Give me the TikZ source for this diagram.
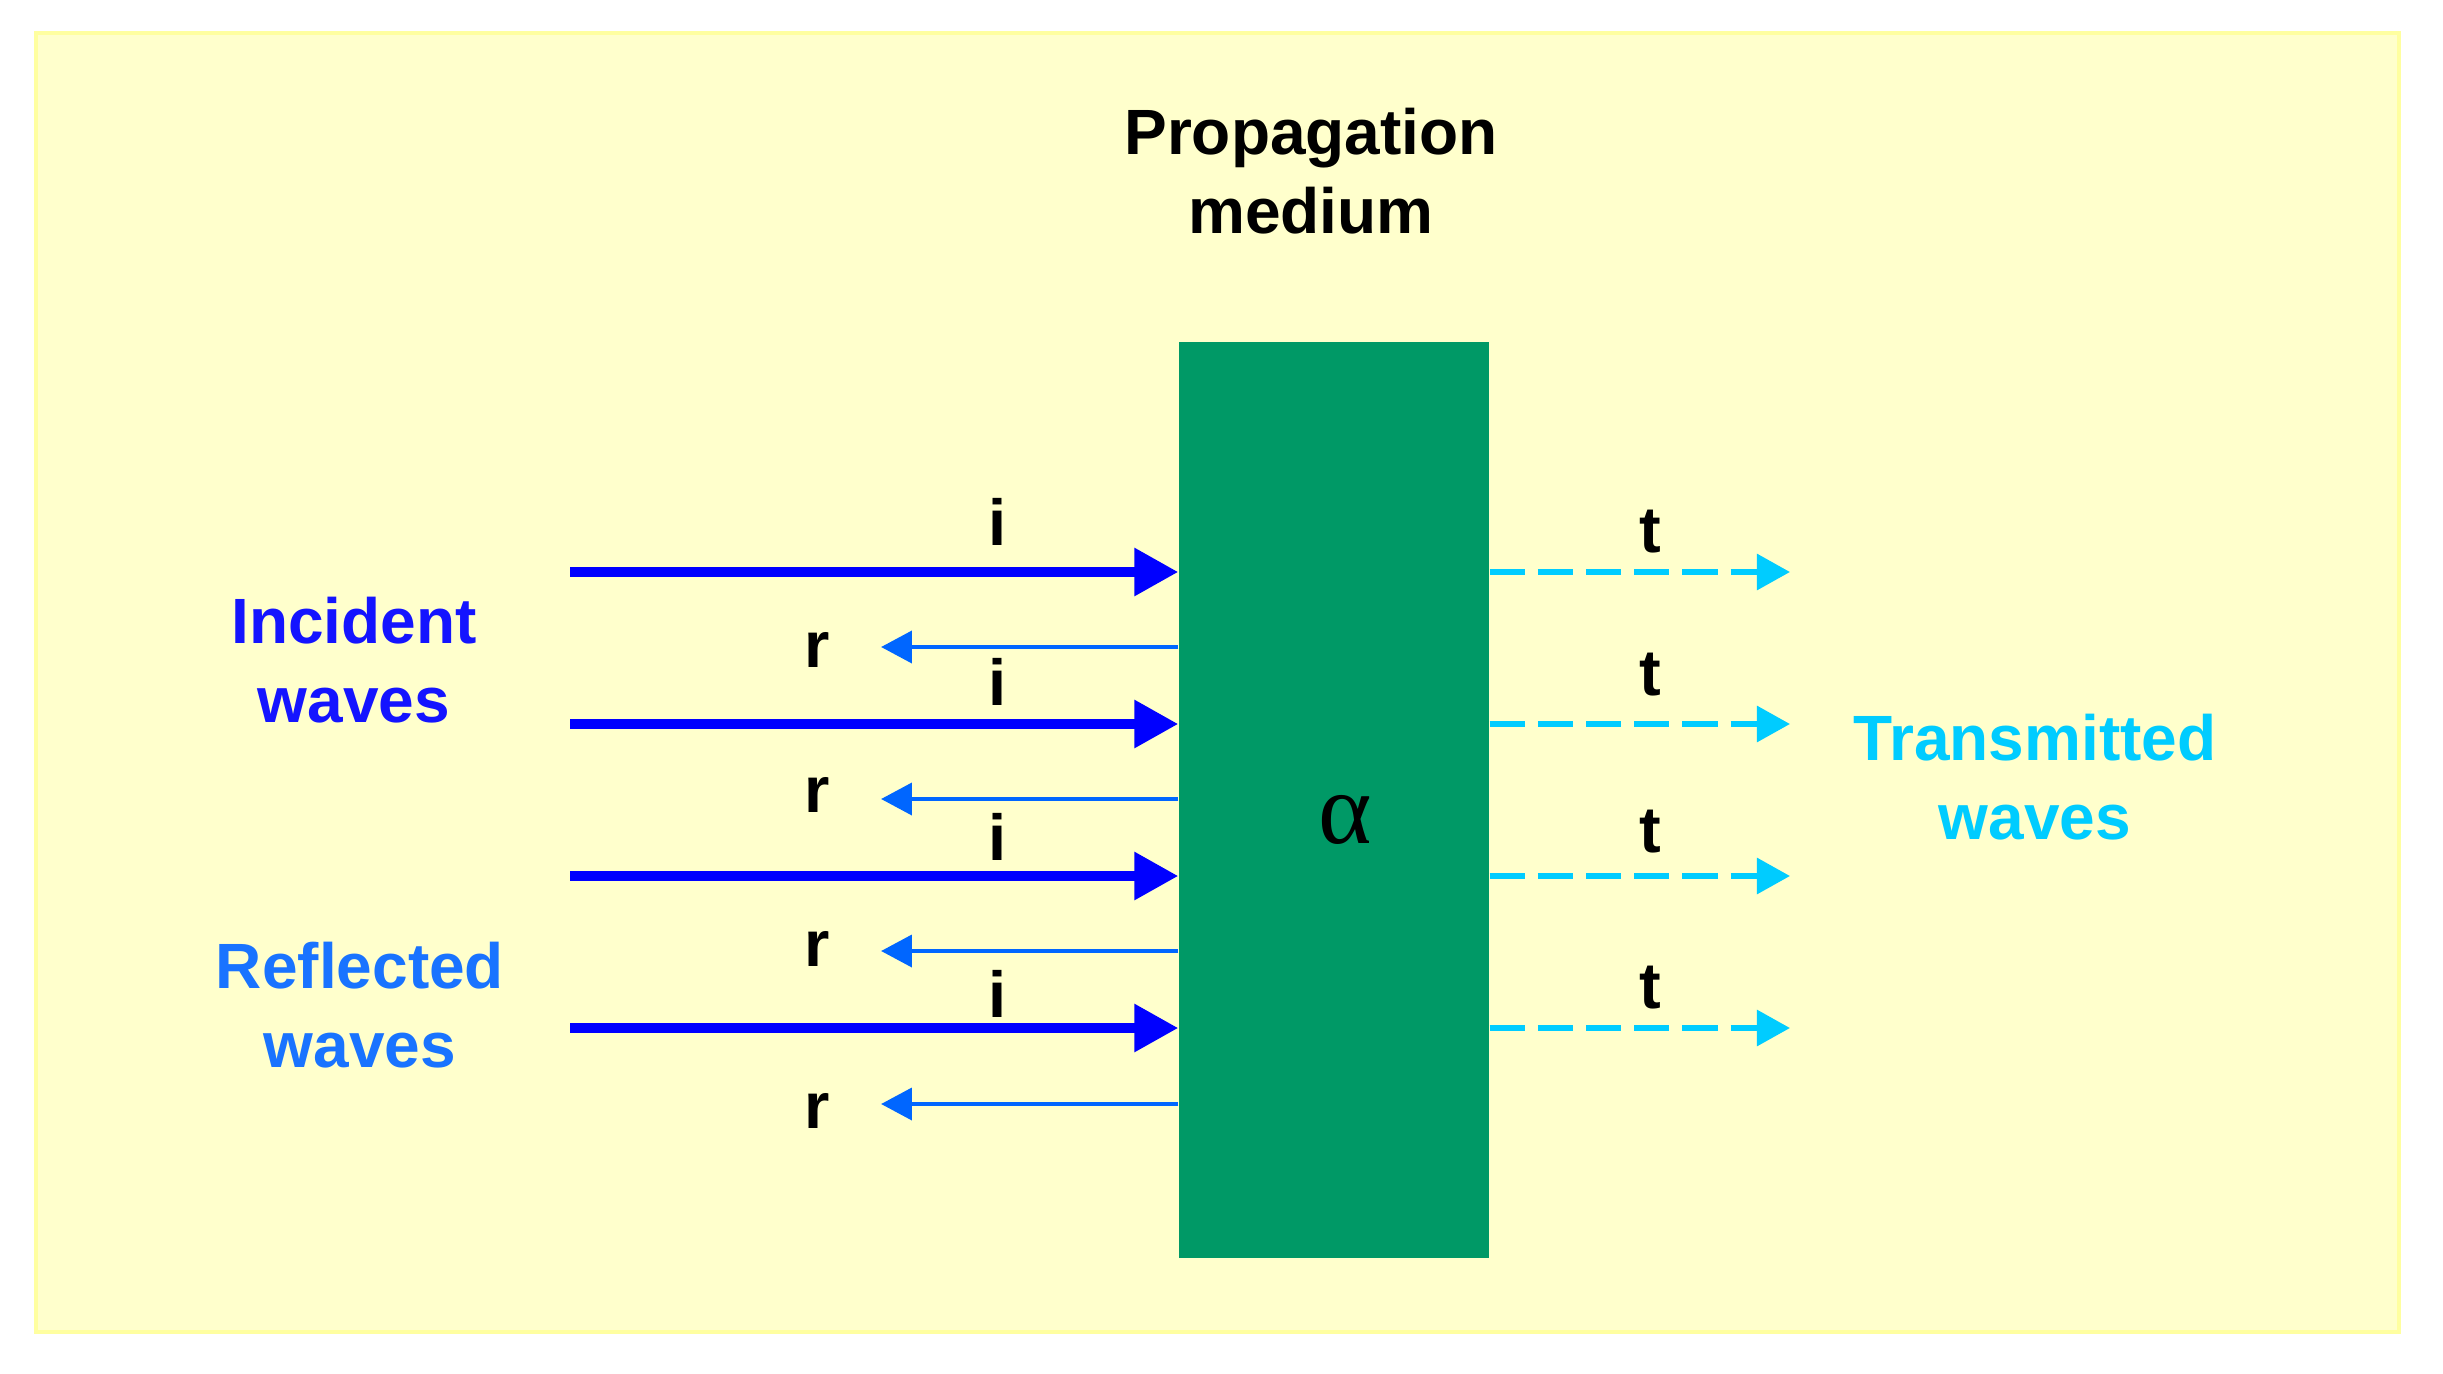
\documentclass[tikz,border=0pt]{standalone}
\usepackage{fontspec}
\setmainfont{Liberation Sans}
\newfontfamily\alphafont{Liberation Serif}
\usetikzlibrary{arrows.meta}
\definecolor{bgyellow}{RGB}{255,255,204}
\definecolor{bgedge}{RGB}{255,255,160}
\definecolor{medgreen}{RGB}{0,153,102}
\definecolor{incblue}{RGB}{0,0,255}
\definecolor{inctext}{RGB}{20,20,255}
\definecolor{refblue}{RGB}{0,102,255}
\definecolor{reftext}{RGB}{25,115,255}
\definecolor{trcyan}{RGB}{0,204,255}
\tikzset{
  lbl/.style={font=\fontsize{18.2}{22.5}\selectfont\bfseries, inner sep=0pt, align=center},
  wavelbl/.style={font=\fontsize{18.5}{22}\selectfont\bfseries, inner sep=0pt, anchor=base, text=black},
  medium/.style={fill=medgreen, draw=none, minimum width=310*0.01cm, minimum height=916*0.01cm, inner sep=0pt},
  incarrow/.style={line width=2.85pt, color=incblue, -{Triangle[length=12.5pt,width=13pt]}},
  refarrow/.style={line width=1.4pt, color=refblue, -{Triangle[length=8.8pt,width=9pt]}},
  trarrow/.style={line width=1.6pt, color=trcyan, dash pattern=on 10pt off 3.7pt, -{Triangle[length=9.4pt,width=10pt]}}
}
\begin{document}
\begin{tikzpicture}[x=0.01cm,y=-0.01cm]
\useasboundingbox (0,0) rectangle (2443,1373);
\fill[white] (0,0) rectangle (2443,1373);
\filldraw[fill=bgyellow, draw=bgedge, line width=1pt] (36,33) rectangle (2399,1332);

\node[medium] (med) at (1334,800) {};
\node[inner sep=0pt, font=\alphafont\fontsize{29}{30}\selectfont] (alpha) at (1345,820) {α};

\node[lbl, text=black] (title) at (1311,171) {Propagation\\medium};
\node[lbl, text=inctext] (inc) at (354,660) {Incident\\waves};
\node[lbl, text=reftext] (refl) at (360,1005) {Reflected\\waves};
\node[lbl, text=trcyan] (trans) at (2035,777) {Transmitted\\waves};

% incident
\coordinate (i1) at (570,572);
\coordinate (i2) at (570,724);
\coordinate (i3) at (570,876);
\coordinate (i4) at (570,1028);
\draw[incarrow] (i1) -- (i1 -| med.west);
\draw[incarrow] (i2) -- (i2 -| med.west);
\draw[incarrow] (i3) -- (i3 -| med.west);
\draw[incarrow] (i4) -- (i4 -| med.west);

% reflected
\coordinate (r1) at (881,647);
\coordinate (r2) at (881,799);
\coordinate (r3) at (881,951);
\coordinate (r4) at (881,1104);
\draw[refarrow] (r1 -| med.west) -- (r1);
\draw[refarrow] (r2 -| med.west) -- (r2);
\draw[refarrow] (r3 -| med.west) -- (r3);
\draw[refarrow] (r4 -| med.west) -- (r4);

% transmitted
\coordinate (t1) at (1790,572);
\coordinate (t2) at (1790,724);
\coordinate (t3) at (1790,876);
\coordinate (t4) at (1790,1028);
\draw[trarrow] (t1 -| med.east) -- (t1);
\draw[trarrow] (t2 -| med.east) -- (t2);
\draw[trarrow] (t3 -| med.east) -- (t3);
\draw[trarrow] (t4 -| med.east) -- (t4);

% labels
\node[wavelbl] (li1) at (998,545) {i};
\node[wavelbl] (li2) at (998,705) {i};
\node[wavelbl] (li3) at (998,860) {i};
\node[wavelbl] (li4) at (998,1017) {i};
\node[wavelbl] (lr1) at (817,667) {r};
\node[wavelbl] (lr2) at (817,812) {r};
\node[wavelbl] (lr3) at (817,966) {r};
\node[wavelbl] (lr4) at (817,1128) {r};
\node[wavelbl] (lt1) at (1650,552) {t};
\node[wavelbl] (lt2) at (1650,695) {t};
\node[wavelbl] (lt3) at (1650,852) {t};
\node[wavelbl] (lt4) at (1650,1008) {t};
\end{tikzpicture}
\end{document}
